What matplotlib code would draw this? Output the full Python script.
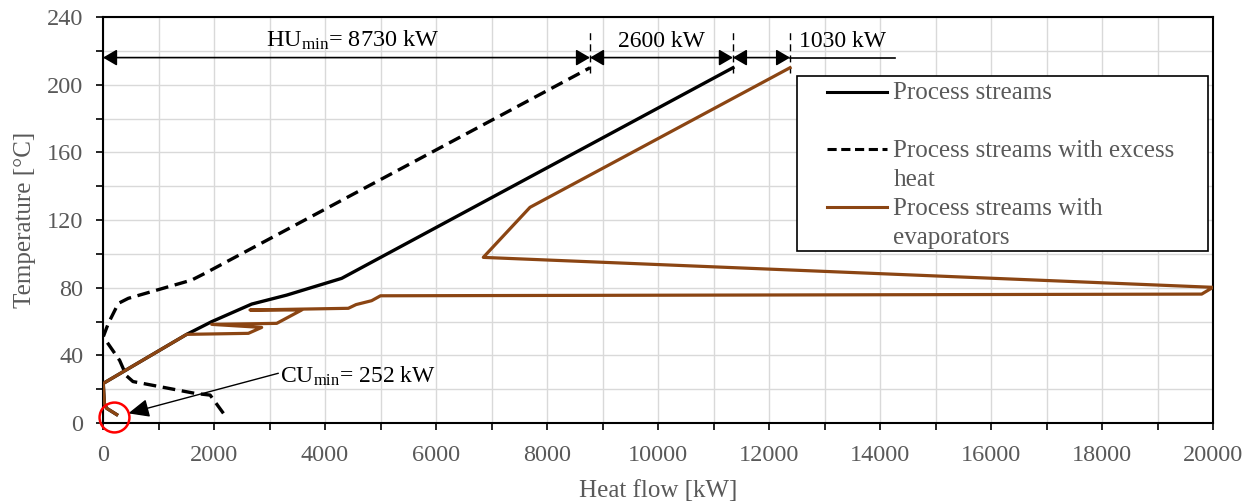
import matplotlib.pyplot as plt
from matplotlib.lines import Line2D
from matplotlib.patches import Rectangle

plt.rcParams['font.family'] = ['Liberation Serif', 'DejaVu Serif']
plt.rcParams['mathtext.fontset'] = 'custom'
plt.rcParams['mathtext.rm'] = 'Liberation Serif'
plt.rcParams['mathtext.it'] = 'Liberation Serif:italic'

# process streams (solid black)
q_process = [246, 66, 24, 5, 1508, 1958, 2679, 3310, 4300, 11350]
t_process = [5, 8.7, 11.6, 23.4, 52.4, 59.9, 70.3, 75.6, 85.5, 210]

# process streams with excess heat (dashed)
q_excess = [2170, 1930, 1660, 540, 420, 300, 5, 96, 276, 456, 1598, 1838, 8775]
t_excess = [5.7, 16.5, 17.5, 24.5, 28, 37, 51, 58.9, 70.7, 73.7, 84.5, 88.5, 210]

# process streams with evaporators (brown)
q_evap = [246, 66, 24, 5, 1508, 2619, 2859, 1958, 3130, 3580, 2649, 4420, 4560,
          4840, 5000, 19796, 20000, 6852, 7694, 12378]
t_evap = [5, 8.7, 11.6, 23.4, 52.4, 53, 56.5, 58.3, 58.9, 66.8, 66.8, 67.8, 70,
          72.3, 75.2, 76.2, 80.2, 97.9, 127.5, 210]

legend_labels = ['Process streams', 'Process streams with excess\nheat',
                 'Process streams with\nevaporators']

hu_min = 8730
gap_process = 2600
gap_evap = 1030
cu_min = 252
q_hu = 8775
q_top_process = 11350
q_top_evap = 12380
q_end_line = 14270
t_arrow = 216

brown = '#8B4513'
gray = '#595959'

fig = plt.figure(figsize=(12.48, 5.03), dpi=100)
ax = fig.add_axes([103 / 1248, 1 - 423 / 503, 1110 / 1248, 406 / 503])

ax.plot(q_process, t_process, color='black', lw=2.4, zorder=3)
ax.plot(q_excess, t_excess, color='black', lw=2.4, ls=(0, (3.8, 2)), zorder=3)
ax.plot(q_evap, t_evap, color=brown, lw=2.3, zorder=4)

ax.set_xlim(0, 20000)
ax.set_ylim(0, 240)
ax.set_xticks(range(0, 20001, 2000))
ax.set_xticks(range(0, 20001, 1000), minor=True)
ax.set_yticks(range(0, 241, 40))
ax.set_yticks(range(0, 241, 20), minor=True)
ax.grid(which='both', color='#d9d9d9', lw=1, zorder=0)
ax.set_axisbelow(True)
ax.tick_params(which='both', direction='out', length=5, width=1.2, color='black')
ax.tick_params(axis='x', which='major', labelsize=17.5, labelcolor=gray, pad=11)
ax.tick_params(axis='y', which='major', labelsize=17.5, labelcolor=gray, pad=9)
for s in ax.spines.values():
    s.set_color('black')
    s.set_linewidth(1.5)

ax.set_xlabel('Heat flow [kW]', fontsize=18, color=gray, labelpad=10)
ax.set_ylabel('Temperature [°C]', fontsize=18, color=gray, labelpad=8)

# top dimension arrows
arrow = dict(arrowstyle='<|-|>,head_length=0.6,head_width=0.35', color='black',
             lw=1.2, shrinkA=0, shrinkB=0, mutation_scale=14)
ax.annotate('', xy=(q_hu, t_arrow), xytext=(0, t_arrow), arrowprops=arrow)
ax.annotate('', xy=(q_top_process, t_arrow), xytext=(q_hu, t_arrow), arrowprops=arrow)
ax.annotate('', xy=(q_top_evap, t_arrow), xytext=(q_top_process, t_arrow), arrowprops=arrow)
ax.plot([q_top_evap, q_end_line], [t_arrow, t_arrow], color='black', lw=1.2)
for q in [q_hu, q_top_process, q_top_evap]:
    ax.plot([q, q], [207, 232], color='black', lw=1, ls=(0, (5, 3)))

ax.text(4500, 222.5, 'HU$_{\\mathrm{min}}$= %d kW' % hu_min, fontsize=17.5,
        ha='center', va='baseline')
ax.text((q_hu + q_top_process) / 2, 222.5, '%d kW' % gap_process,
        fontsize=17, ha='center', va='baseline')
ax.text(12540, 222.5, '%d kW' % gap_evap, fontsize=17, ha='left', va='baseline')

# cold utility
ax.annotate('', xy=(456, 5.7), xytext=(3159, 29.4),
            arrowprops=dict(arrowstyle='-|>,head_length=0.8,head_width=0.35',
                            color='black', lw=1, shrinkA=0, shrinkB=0,
                            mutation_scale=16))
ax.text(3189, 24, 'CU$_{\\mathrm{min}}$= %d kW' % cu_min, fontsize=17,
        ha='left', va='baseline')
ax.plot([195], [3.5], 'o', ms=21.5, mfc='none', mec='red', mew=1.8,
        clip_on=False, zorder=5)

# legend box
ax.add_patch(Rectangle((0.625, 0.4244), 0.3705, 0.431, transform=ax.transAxes,
                       facecolor='white', edgecolor='black', lw=1.2, zorder=6))
handles = [dict(color='black', ls='-'), dict(color='black', ls=(0, (3, 1.5))),
           dict(color=brown, ls='-')]
ys = [0.816, 0.674, 0.531]
for lab, h, y in zip(legend_labels, handles, ys):
    ax.add_line(Line2D([0.652, 0.7066], [y, y], transform=ax.transAxes, lw=2.2,
                       zorder=7, **h))
    ax.text(0.712, y + 0.023, lab, transform=ax.transAxes, fontsize=18,
            color=gray, va='top', ha='left', linespacing=1.4, zorder=7)

fig.savefig('out.png', dpi=100)
